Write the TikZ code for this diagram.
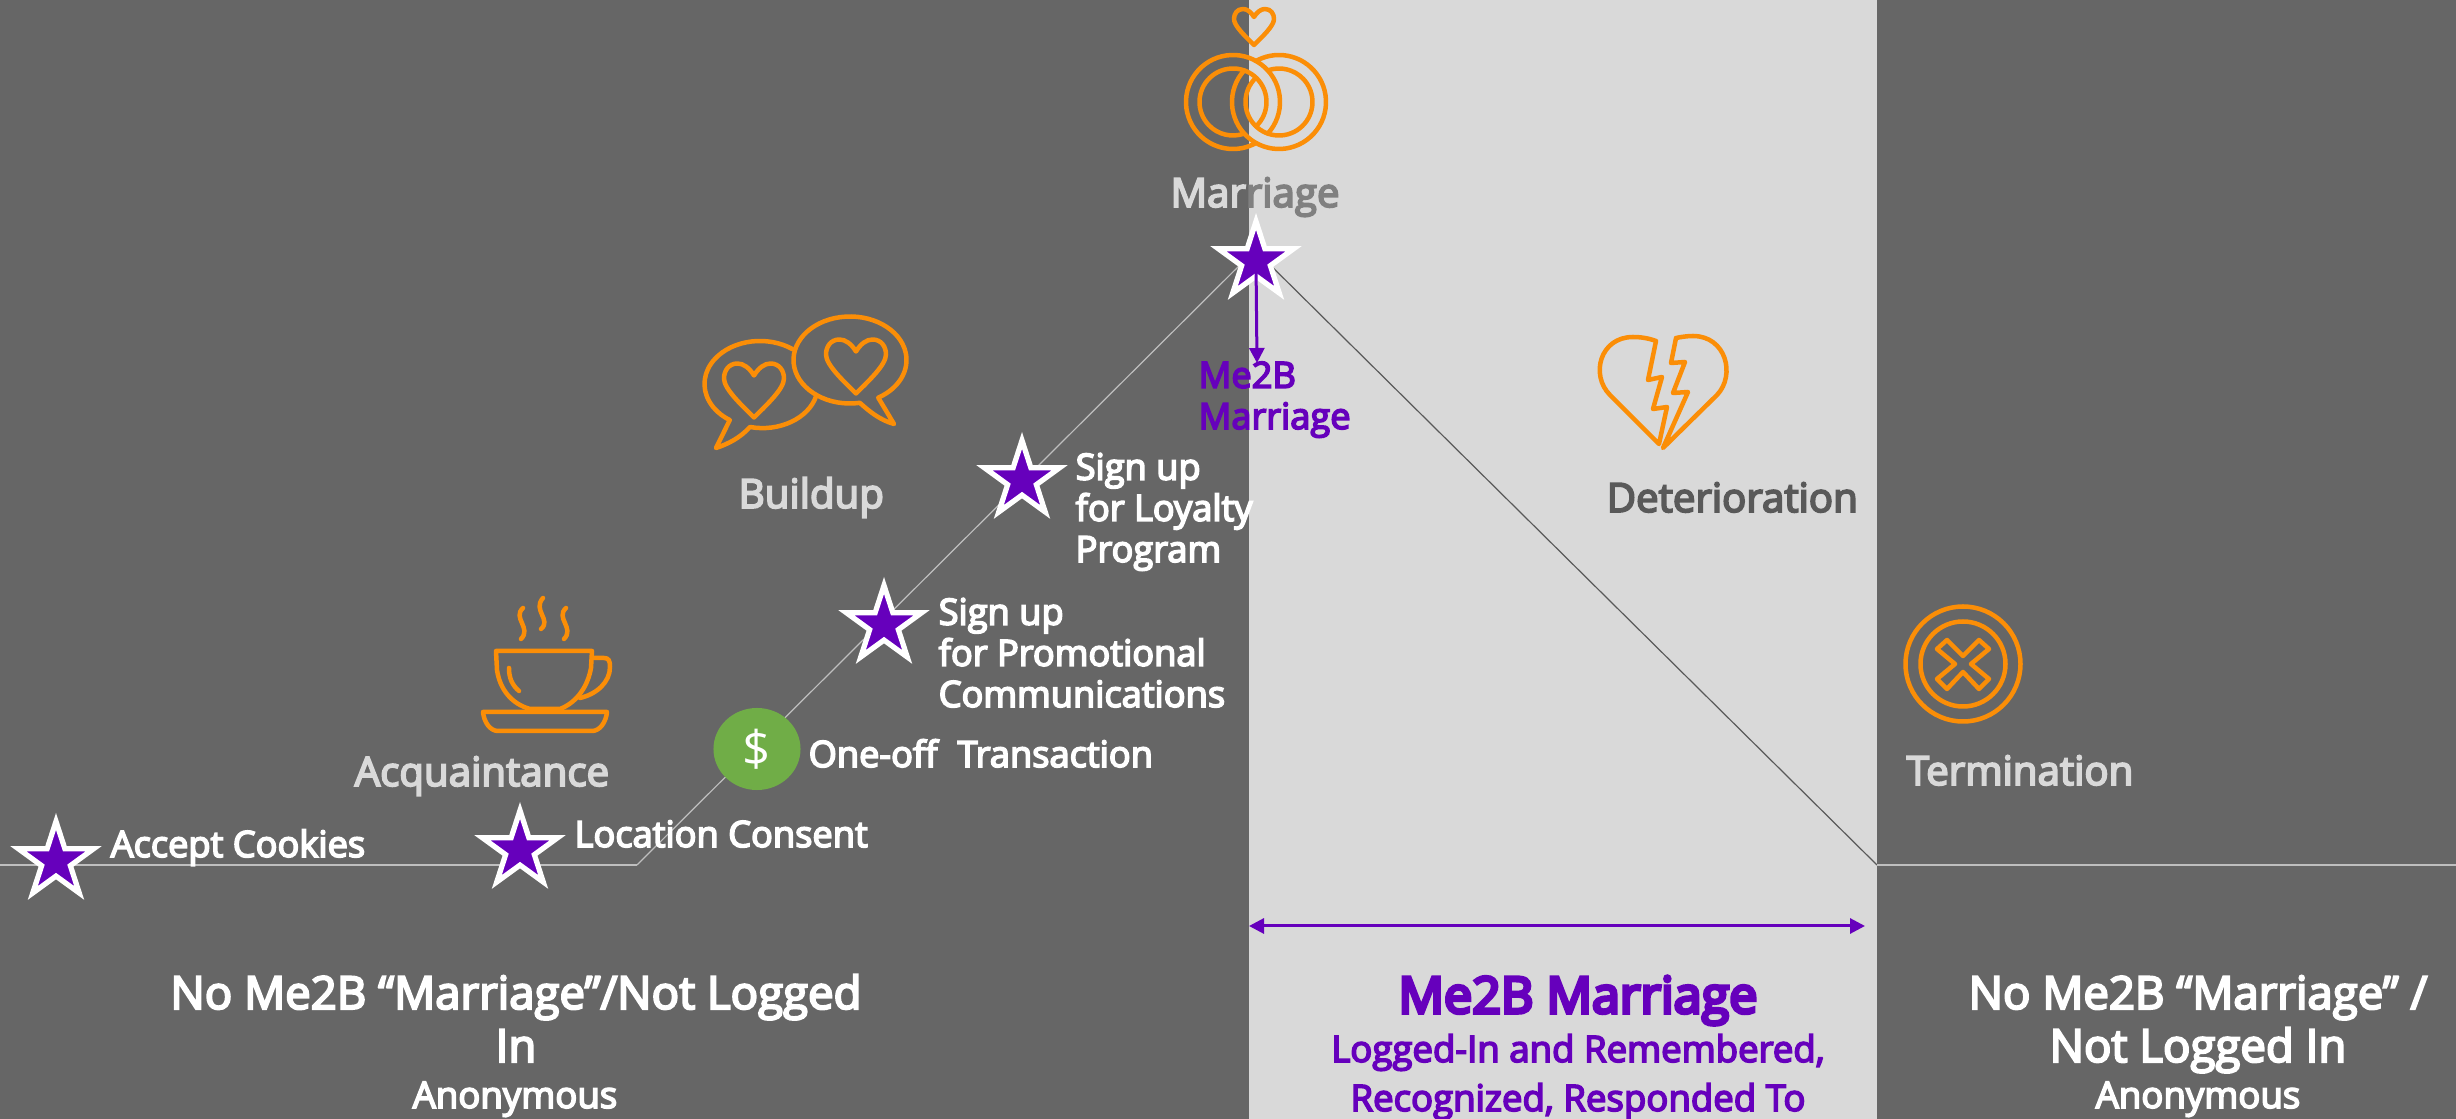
\documentclass[tikz,border=0pt]{standalone}
\usepackage{fontspec}
\setmainfont{Open Sans}
\newfontfamily\semifont[FakeBold=4.5]{Open Sans}
\newfontfamily\headfont[FakeBold=7]{Open Sans}
\usetikzlibrary{shapes.geometric,arrows.meta}
\definecolor{slate}{HTML}{666666}
\definecolor{pale}{HTML}{D9D9D9}
\definecolor{amber}{HTML}{FB8E07}
\definecolor{violet}{HTML}{6600BC}
\definecolor{leaf}{HTML}{70AD47}
\tikzset{
  x=.01cm, y=.01cm,
  iconline/.style={draw=amber, line width=.045cm, line join=round, line cap=round},
  milestone/.style={star, star points=5, star point ratio=2.618, inner sep=0pt, outer sep=0pt,
    minimum size=.79cm, fill=violet, draw=white, line width=.0525cm, miter limit=10},
  caption/.style={font=\fontsize{10.3}{11.7}\selectfont\semifont, text=white, align=left, inner sep=0pt, anchor=base west},
  phase/.style={font=\fontsize{11.45}{13}\selectfont\semifont, text=pale, inner sep=0pt, anchor=base west},
  verdict/.style={font=\fontsize{12.95}{15}\selectfont\semifont, text=white, inner sep=0pt, anchor=base},
  aside/.style={font=\fontsize{10.4}{12}\selectfont\semifont, text=white, inner sep=0pt, anchor=base},
  pointer/.style={violet, line width=.03cm},
  lovemark/.pic={
    \draw[iconline] (0,.55) .. controls (.15,.8) and (.35,.95) .. (.55,.95)
      .. controls (.85,.95) and (1,.7) .. (1,.45) .. controls (1,.1) and (.4,-.45) .. (0,-.85)
      .. controls (-.4,-.45) and (-1,.1) .. (-1,.45) .. controls (-1,.7) and (-.85,.95) .. (-.55,.95)
      .. controls (-.35,.95) and (-.15,.8) .. (0,.55) -- cycle;
  }
}
\begin{document}
\begin{tikzpicture}
    \useasboundingbox (0,0) rectangle (2456,-1119);
    \fill[slate] (0,0) rectangle (2456,-1119);
    \fill[pale] (1249,0) rectangle (1877,-1119);

    \coordinate (c0) at (0,-865);
    \coordinate (c1) at (637,-865);
    \coordinate (c2) at (1255,-250);
    \coordinate (c3) at (1877,-865);
    \coordinate (c4) at (2456,-865);
    \coordinate (c5) at (1257,-363);
    \coordinate (c6) at (1249,-926);
    \coordinate (c7) at (1865,-926);

    \draw[line width=.02cm, color=lightgray] (c0) -- (c1);
    \draw[line width=.012cm, color=lightgray] (c1) -- (c2);
    \draw[line width=.012cm, color=black!65] (c2) -- (c3);
    \draw[line width=.015cm, color=lightgray] (c3) -- (c4);

    \node[milestone] (s1) at (56,-861) {};
    \node[milestone] (s2) at (520,-850) {};
    \node[milestone] (s3) at (884,-625) {};
    \node[milestone] (s4) at (1022,-480) {};
    \node[milestone] (s5) at (1256,-261) {};
    \node[ellipse, fill=leaf, minimum width=.87cm, minimum height=.82cm, inner sep=0pt,
      text=white, font=\fontsize{14}{16}\selectfont] (d1) at (757,-749) {\raisebox{-.7pt}{\$}};

    \draw[-{Triangle[length=.15cm,width=.15cm]}, pointer] (s5.center) -- (c5);
    \draw[{Triangle[length=.15cm,width=.15cm]}-{Triangle[length=.15cm,width=.15cm]}, pointer] (c6) -- (c7);

    \node[caption] (l1) at (110,-857) {Accept Cookies};
    \node[caption] (l2) at (574,-847) {Location Consent};
    \node[caption] (l3) at (808,-767) {One-off\hspace{3pt} Transaction};
    \node[caption] (l4) at (938,-707) {Sign up\\for Promotional\\Communications};
    \node[caption] (l5) at (1075,-562) {Sign up\\for Loyalty\\Program};
    \node[caption, text=violet] (l6) at (1198,-429) {Me2B\\Marriage};

    \node[phase] (p1) at (354,-786) {Acquaintance};
    \node[phase] (p2) at (738,-508) {Buildup};
    \node[phase] (p3) at (1170,-207) {Mar\textcolor{gray}{riage}};
    \node[phase, text=black!65] (p4) at (1606,-512) {Deterioration};
    \node[phase] (p5) at (1906,-785) {Termination};

    \node[verdict] (v1) at (516,-1009) {No Me2B “Marriage”/Not Logged};
    \node[verdict] (v2) at (516,-1062) {In};
    \node[aside] (v3) at (515,-1108) {Anonymous};
    \node[verdict] (v4) at (2198,-1009) {No Me2B “Marriage” /};
    \node[verdict] (v5) at (2198,-1062) {Not Logged In};
    \node[aside] (v6) at (2198,-1108) {Anonymous};
    \node[verdict, text=violet, font=\fontsize{14.3}{18}\selectfont\headfont] (m1) at (1578,-1013) {Me2B Marriage};
    \node[aside, text=violet, font=\fontsize{10.4}{13}\selectfont\semifont] (m2) at (1578,-1062) {Logged-In and Remembered,};
    \node[aside, text=violet, font=\fontsize{10.4}{13}\selectfont\semifont] (m3) at (1578,-1111) {Recognized, Responded To};

    \pic[scale=20] at (1254,-28) {lovemark};
    \draw[iconline] (1233,-102) ++(-42.2:47) arc[start angle=-42.2, end angle=299.3, radius=47];
    \draw[iconline] (1233,-102) ++(-46.6:33.5) arc[start angle=-46.6, end angle=289.5, radius=33.5];
    \draw[iconline] (1279,-102) ++(137.8:47) arc[start angle=137.8, end angle=479.3, radius=47];
    \draw[iconline] (1279,-102) ++(133.4:33.5) arc[start angle=133.4, end angle=469.5, radius=33.5];

    \pic[scale=30] at (754,-392) {lovemark};
    \pic[scale=30] at (856,-368) {lovemark};
    \draw[iconline] (760,-384) ++(54:55.5 and 43) arc[start angle=54, end angle=237, x radius=55.5, y radius=43]
      -- (716,-448) .. controls (728,-444) and (740,-438) .. (750,-427)
      arc[start angle=257, end angle=345, x radius=55.5, y radius=43];
    \draw[iconline] (850,-360) ++(280:56.5 and 43.5) arc[start angle=280, end angle=-60, x radius=56.5, y radius=43.5]
      -- (894,-424) .. controls (880,-420) and (870,-412) .. (860,-403);

    \draw[iconline] (523,-608) .. controls (512,-618) and (532,-628) .. (521,-639);
    \draw[iconline] (543,-598) .. controls (532,-610) and (552,-620) .. (541,-629);
    \draw[iconline] (566,-608) .. controls (555,-618) and (575,-628) .. (564,-639);
    \draw[iconline] (496,-651) -- (592,-651) -- (591,-668) .. controls (588,-685) and (578,-702) .. (560,-709)
      -- (530,-709) .. controls (512,-704) and (500,-690) .. (497,-670) -- cycle;
    \draw[iconline] (509,-668) .. controls (509,-678) and (512,-685) .. (519,-691);
    \draw[iconline] (592,-658) -- (604,-658) .. controls (609,-658) and (610,-661) .. (610,-667)
      .. controls (610,-682) and (597,-694) .. (580,-698);
    \draw[iconline] (483,-712) -- (607,-712) .. controls (606,-722) and (600,-731) .. (592,-731)
      -- (498,-731) .. controls (490,-731) and (484,-722) .. (483,-712) -- cycle;

    \draw[iconline] (1656,-341) -- (1648,-380) -- (1662,-377) -- (1653,-409) -- (1667,-407) -- (1659,-444)
      -- (1610,-395) .. controls (1590,-375) and (1600,-337) .. (1633,-337) .. controls (1640,-337) and (1648,-338) .. (1656,-341);
    \draw[iconline] (1676,-338) -- (1671,-363) -- (1685,-362) -- (1673,-393) -- (1688,-392) -- (1663,-448)
      -- (1717,-395) .. controls (1736,-375) and (1726,-336) .. (1693,-336) .. controls (1687,-336) and (1681,-337) .. (1676,-338);

    \draw[iconline] (1963,-664) circle[radius=57.5];
    \draw[iconline] (1963,-664) circle[radius=42.5];
    \draw[iconline, shift={(1963,-664)}] (0,8) -- (16,24) -- (26,15) -- (8,0) -- (26,-15) -- (16,-25) -- (0,-8)
      -- (-16,-25) -- (-26,-15) -- (-8,0) -- (-26,15) -- (-16,24) -- cycle;
\end{tikzpicture}
\end{document}
